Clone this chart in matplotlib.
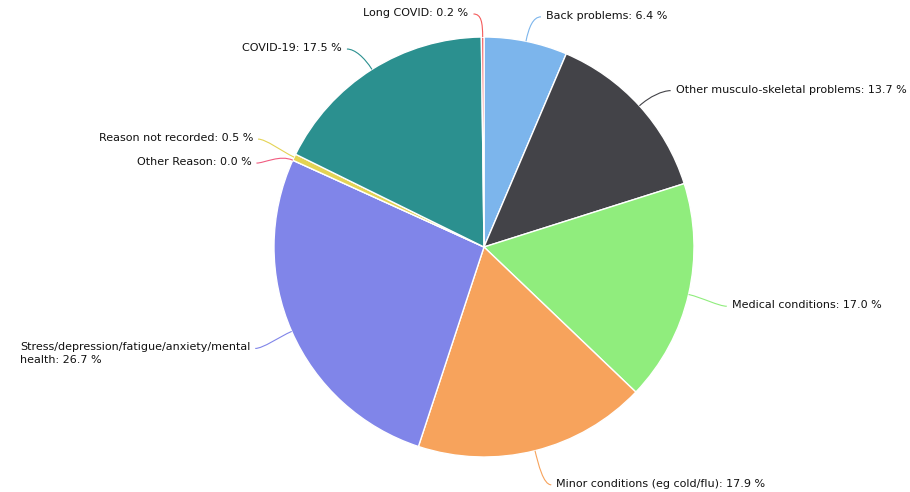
import textwrap
import numpy as np
import matplotlib
matplotlib.use("Agg")
import matplotlib.pyplot as plt
from matplotlib.path import Path
from matplotlib.patches import PathPatch

# sickness absence reasons, clockwise from 12 o'clock
categories = [
    "Back problems",
    "Other musculo-skeletal problems",
    "Medical conditions",
    "Minor conditions (eg cold/flu)",
    "Stress/depression/fatigue/anxiety/mental health",
    "Other Reason",
    "Reason not recorded",
    "COVID-19",
    "Long COVID",
]
shares = [6.4, 13.7, 17.0, 17.9, 26.7, 0.0, 0.5, 17.5, 0.2]
colors = ["#7cb5ec", "#434348", "#90ed7d", "#f7a35c", "#8085e9",
          "#f15c80", "#e4d354", "#2b908f", "#f45b5b"]

W, H = 910, 492
CX, CY = 484, H - 247   # pie centre (y measured upwards)
R = 210
DIST = 30               # label distance outside the pie
MIN_GAP = 24            # min vertical spacing between labels on one side

fig = plt.figure(figsize=(W / 100, H / 100), dpi=100)
ax = fig.add_axes([0, 0, 1, 1])

ax.pie(shares, colors=colors, startangle=90, counterclock=False,
       center=(CX, CY), radius=R,
       wedgeprops=dict(edgecolor="white", linewidth=1))
ax.set_xlim(0, W)
ax.set_ylim(0, H)
ax.set_aspect("equal")
ax.axis("off")

# mid angle of each slice (math convention, degrees)
frac = np.array(shares) / sum(shares)
mids = 90 - 360 * (np.cumsum(frac) - frac / 2)
rad = np.deg2rad(mids)

ax_x = CX + (R + DIST) * np.cos(rad)
ax_y = CY + (R + DIST) * np.sin(rad)
side = np.where(np.cos(rad) >= 0, 1, -1)

# spread labels that are too close vertically
lab_y = ax_y.copy()
for s in (1, -1):
    idx = [i for i in range(len(shares)) if side[i] == s]
    for _ in range(50):
        idx.sort(key=lambda i: -lab_y[i])
        for a, b in zip(idx[:-1], idx[1:]):
            gap = lab_y[a] - lab_y[b]
            if gap < MIN_GAP:
                push = (MIN_GAP - gap) / 2
                lab_y[a] += push
                lab_y[b] -= push
lab_y = np.clip(lab_y, 10, H - 9)

for i, name in enumerate(categories):
    text = textwrap.fill(f"{name}: {shares[i]:.1f} %", 40)
    s = side[i]
    # connector: from slice edge out, then bend towards the label
    p0 = (CX + R * np.cos(rad[i]), CY + R * np.sin(rad[i]))
    p1 = (CX + (R + 14) * np.cos(rad[i]), CY + (R + 14) * np.sin(rad[i]))
    p3 = (ax_x[i] + s * 9, lab_y[i] - 5)
    p2 = (p3[0] - s * 8, p3[1])
    path = Path([p0, p1, p2, p3],
                [Path.MOVETO, Path.CURVE4, Path.CURVE4, Path.CURVE4])
    ax.add_patch(PathPatch(path, fc="none", ec=colors[i], lw=0.8))
    ax.text(ax_x[i] + s * 14, lab_y[i] + 1, text,
            ha="left" if s > 0 else "right", va="top",
            multialignment="left", fontsize=8, color="#111111",
            linespacing=1.3)

fig.savefig("out.png", dpi=100)
